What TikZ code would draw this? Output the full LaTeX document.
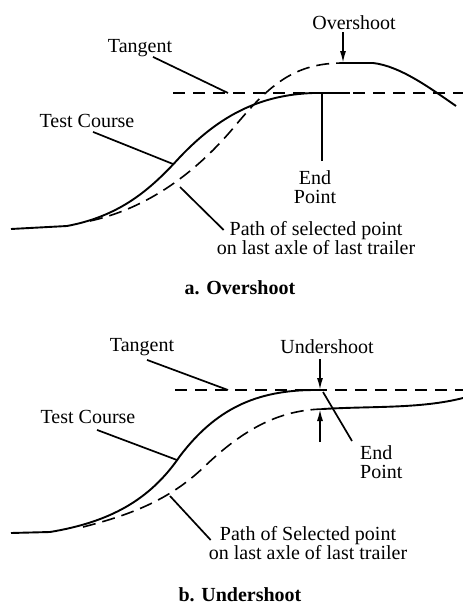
\documentclass[tikz,border=0pt]{standalone}
\usepackage{fontspec}
\setmainfont{Liberation Serif}
\usetikzlibrary{arrows.meta,calc,positioning}

\begin{document}
\begin{tikzpicture}[x=1pt,y=-1pt,
    course/.style={line width=1.9pt, line join=round},
    trail/.style={line width=1.6pt, dash pattern=on 13pt off 7pt},
    tangentline/.style={line width=1.5pt, dash pattern=on 12pt off 8pt},
    leader/.style={line width=1.7pt},
    marker/.style={line width=1.6pt, -{Latex[length=12pt,width=6pt]}},
    txt/.style={font=\fontsize{20}{19.5}\selectfont, inner sep=0pt, align=center},
    caption/.style={font=\fontsize{20}{24}\selectfont\bfseries, inner sep=0pt}]

\useasboundingbox (0,0) rectangle (463,605);

% ---- a. Overshoot ----
\coordinate (tanA) at (228,93);
\coordinate (courseA) at (173,164);
\coordinate (trailA) at (180,187);
\coordinate (endptA) at (322,93);
\coordinate (topA) at (343,63);

% Tangent
\draw[tangentline] (173,93) -- (463,93);

% Test course
\draw[course] (11,229) -- (67,226) .. controls (120,216) and (150,190) .. (180,157)
    .. controls (220,115) and (260,95) .. (313,93);

% Path of selected point
\draw[trail] (90,221) .. controls (140,210) and (190,180) .. (235,126)
    .. controls (270,84) and (295,63) .. (343,63);
\draw[course] (343,63) -- (373,63) .. controls (400,66) and (430,88) .. (456,106);

\node[txt] (overA) at (354,23) {Overshoot};
\node[txt] (tangentA) at (140,48) {Tangent};
\node[txt] (testA) at (87,121) {Test Course};
\node[txt] (endA) at (315,187) {End\\Point};
\node[txt] (pathA) at (316,238) {Path of selected point\\on last axle of last trailer};
\node[caption] (capA) at (240,288) {a. Overshoot};

\draw[marker] ($(overA.south -| topA)+(0,2)$) -- (topA);
\draw[leader] ($(tangentA.south)+(13,0)$) -- (tanA);
\draw[leader] ($(testA.south)+(6,4)$) -- (courseA);
\draw[leader] ($(endA.north)+(7,-9)$) -- (endptA) -- ++(28,0);
\draw[leader] (trailA) -- ($(pathA.west)+(7,-8)$);

% ---- b. Undershoot ----
\coordinate (tanB) at (228,390);
\coordinate (courseB) at (177,460);
\coordinate (trailB) at (170,496);
\coordinate (endptB) at (323,392);
\coordinate (tipB) at (320,390);
\coordinate (lowB) at (320,409);
\coordinate (tailB) at (320,442);

% Tangent
\draw[tangentline] (175,390) -- (463,390);

% Test course
\draw[course] (11,533) -- (50,532) .. controls (110,522) and (150,500) .. (180,456)
    .. controls (215,410) and (255,390) .. (315,390);

% Path of selected point
\draw[trail] (83,527) .. controls (130,515) and (170,500) .. (205,466)
    .. controls (245,428) and (280,410) .. (323,409);
\draw[course] (323,409) .. controls (370,406) and (420,409) .. (463,398);

\node[txt] (tangentB) at (142,347) {Tangent};
\node[txt] (underB) at (327,347) {Undershoot};
\node[txt] (testB) at (88,417) {Test Course};
\node[txt, align=left, anchor=west] (endB) at (360,462) {End\\Point};
\node[txt] (pathB) at (308,543) {Path of Selected point\\on last axle of last trailer};
\node[caption] (capB) at (240,595) {b. Undershoot};

\draw[marker] ($(underB.south -| tipB)+(0,5)$) -- (tipB);
\draw[marker] (tailB) -- (lowB);
\draw[leader] ($(tangentB.south)+(5,4)$) -- (tanB);
\draw[leader] ($(testB.south)+(9,6)$) -- (courseB);
\draw[leader] (endptB) -- ($(endB.north west)+(-8,-4)$);
\draw[leader] (trailB) -- ($(pathB.west)+(2,-3)$);
\end{tikzpicture}
\end{document}
